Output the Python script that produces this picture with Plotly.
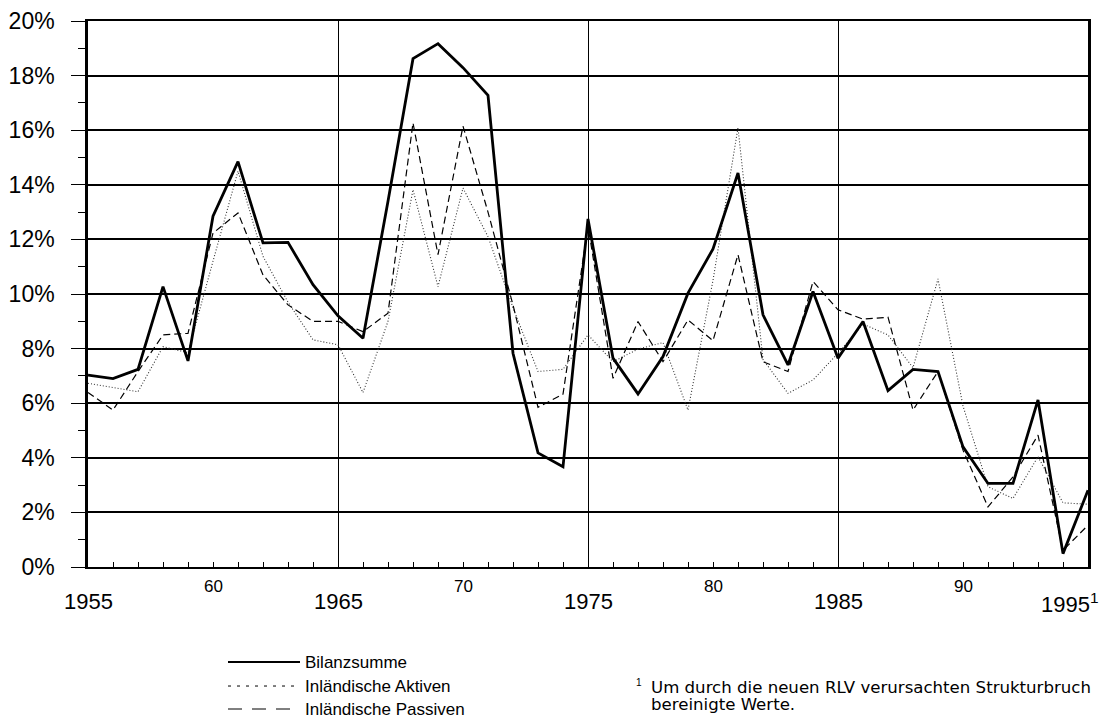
import plotly.graph_objects as go

years = list(range(1955, 1996))

bilanzsumme = [7.03, 6.90, 7.24, 10.27, 7.55, 12.85, 14.85, 11.87, 11.89, 10.34,
               9.20, 8.38, 13.40, 18.62, 19.17, 18.29, 17.28, 7.83, 4.18, 3.67,
               12.75, 7.65, 6.34, 7.71, 10.03, 11.65, 14.43, 9.24, 7.40, 10.09,
               7.65, 8.99, 6.46, 7.24, 7.16, 4.40, 3.06, 3.06, 6.12, 0.49, 2.81]

inl_aktiven = [6.73, 6.58, 6.42, 8.07, 7.85, 11.20, 14.50, 11.38, 9.70, 8.32,
               8.14, 6.39, 9.00, 13.82, 10.27, 13.88, 12.10, 9.50, 7.16, 7.24,
               8.50, 7.52, 7.98, 8.22, 5.75, 10.50, 16.09, 7.60, 6.36, 6.85,
               7.83, 8.90, 8.50, 7.30, 10.55, 5.90, 2.94, 2.51, 4.04, 2.35, 2.30]

inl_passiven = [6.39, 5.75, 7.16, 8.50, 8.56, 12.23, 12.97, 10.70, 9.60, 9.00,
                9.00, 8.62, 9.30, 16.27, 11.44, 16.15, 13.00, 9.60, 5.85, 6.33,
                12.48, 6.91, 8.99, 7.52, 9.05, 8.29, 11.44, 7.52, 7.16, 10.46,
                9.42, 9.08, 9.15, 5.75, 7.16, 4.28, 2.20, 3.30, 4.83, 0.61, 1.53]

series_names = ["Bilanzsumme", "Inländische Aktiven", "Inländische Passiven"]

y_tickvals = list(range(0, 21, 2))
y_ticktext = [f"{v}%" for v in y_tickvals]

x_major_labels = {1955: "1955", 1965: "1965", 1975: "1975", 1985: "1985", 1995: "1995<sup>1</sup>"}
x_minor_labels = {1960: "60", 1970: "70", 1980: "80", 1990: "90"}

footnote_lines = ["Um durch die neuen RLV verursachten Strukturbruch", "bereinigte Werte."]

FONT = "Liberation Sans, Arial, Helvetica, sans-serif"
FONT_WIDE = "DejaVu Sans, Liberation Sans, sans-serif"

fig = go.Figure()
fig.add_trace(go.Scatter(x=years, y=inl_aktiven, mode="lines", name=series_names[1],
                         line=dict(color="#333333", width=1.1, dash="1px,2px")))
fig.add_trace(go.Scatter(x=years, y=inl_passiven, mode="lines", name=series_names[2],
                         line=dict(color="black", width=1.2, dash="7px,4px")))
fig.add_trace(go.Scatter(x=years, y=bilanzsumme, mode="lines", name=series_names[0],
                         line=dict(color="black", width=2.8)))

# the page body has an 8px margin, so the figure is sized to fit the window
fig.update_layout(
    width=1093, height=712,
    margin=dict(l=80, r=13, t=13, b=153, autoexpand=False),
    plot_bgcolor="white", paper_bgcolor="white",
    showlegend=False,
    font=dict(family=FONT, color="black"),
)

fig.update_xaxes(
    range=[1955, 1995], automargin=False,
    tickvals=[1955, 1965, 1975, 1985, 1995],
    showticklabels=False,
    ticks="inside", ticklen=5, tickcolor="black", tickwidth=1,
    minor=dict(dtick=1, tick0=1955, ticks="inside", ticklen=5, tickcolor="black", tickwidth=1, showgrid=False),
    showgrid=True, gridcolor="black", gridwidth=1.2,
    showline=True, linecolor="black", linewidth=1.5, mirror=True,
    zeroline=False,
)
fig.update_yaxes(
    range=[0, 20], automargin=False,
    tickvals=y_tickvals, ticktext=y_ticktext,
    tickfont=dict(size=23, family=FONT),
    ticks="outside", ticklen=14, tickcolor="black", tickwidth=1.2,
    ticklabelstandoff=12,
    minor=dict(dtick=1, ticks="outside", ticklen=7, tickcolor="black", tickwidth=1.2, showgrid=False),
    showgrid=True, gridcolor="black", gridwidth=1.5,
    showline=True, linecolor="black", linewidth=2.5, mirror=True,
    zeroline=False,
)

for xv, txt in x_major_labels.items():
    if xv == 1995:
        fig.add_annotation(x=xv, y=0, xref="x", yref="paper", text=txt, showarrow=False,
                           yanchor="top", xanchor="right", yshift=-20, xshift=13,
                           font=dict(size=22, family=FONT))
    else:
        fig.add_annotation(x=xv, y=0, xref="x", yref="paper", text=txt, showarrow=False,
                           yanchor="top", yshift=-20, font=dict(size=22, family=FONT))
for xv, txt in x_minor_labels.items():
    fig.add_annotation(x=xv, y=0, xref="x", yref="paper", text=txt, showarrow=False,
                       yanchor="top", yshift=-8, font=dict(size=17, family=FONT))

# legend (drawn manually)
leg_y = [-0.174, -0.218, -0.2601]
leg_styles = [dict(color="black", width=2.2, dash="solid"),
              dict(color="black", width=1, dash="3px,6px"),
              dict(color="black", width=1, dash="14px,10px")]
for name, yy, st in zip(series_names, leg_y, leg_styles):
    fig.add_shape(type="line", xref="paper", yref="paper", x0=0.14, x1=0.212, y0=yy, y1=yy,
                  line=st)
    fig.add_annotation(x=0.215, y=yy, xref="paper", yref="paper", text=name, showarrow=False,
                       xanchor="left", yanchor="middle", font=dict(size=17, family=FONT))

fig.add_annotation(x=0.546, y=-0.212, xref="paper", yref="paper", text="1", showarrow=False,
                   xanchor="left", yanchor="middle", font=dict(size=10, family=FONT))
fig.add_annotation(x=0.561, y=-0.2207, xref="paper", yref="paper", text=footnote_lines[0],
                   showarrow=False, xanchor="left", yanchor="middle", font=dict(size=16.6, family=FONT_WIDE))
fig.add_annotation(x=0.561, y=-0.2518, xref="paper", yref="paper", text=footnote_lines[1],
                   showarrow=False, xanchor="left", yanchor="middle", font=dict(size=16.6, family=FONT_WIDE))

fig.write_html("out.html")
